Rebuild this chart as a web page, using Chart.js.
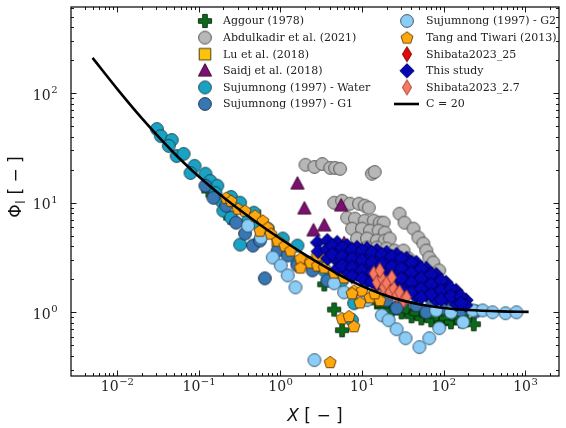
<!DOCTYPE html>
<html>
<head>
<meta charset="utf-8">
<script src="https://cdn.jsdelivr.net/npm/chart.js@4.4.1/dist/chart.umd.min.js"></script>
<style>
  html, body { margin: 0; padding: 0; background: #fff; }
</style>
</head>
<body>
<canvas id="chart" width="566" height="428"></canvas>
<script>
// Two-phase multiplier vs. Lockhart-Martinelli parameter, several data sources

const aggourX = [0.131, 0.243, 3.45, 4.56, 5.7, 15.2, 17.5, 20.0, 23.1, 26.5, 30.5, 35.1, 40.4, 46.3, 53.3, 61.3, 70.5, 81.1, 93.3, 107, 123, 142, 163, 188, 234];
const aggourY = [12.9, 7.31, 1.80, 1.06, 0.686, 1.23, 1.16, 1.16, 1.04, 1.09, 1.0, 1.04, 0.920, 0.98, 0.882, 0.939, 0.846, 0.920, 0.794, 0.882, 0.811, 0.882, 0.828, 0.846, 0.778];

const abdulX = [2.03, 2.61, 3.26, 4.08, 4.69, 5.39, 13.2, 14.3, 4.56, 5.7, 7.13, 9.17, 10.8, 12.1, 6.56, 8.2, 10.8, 13.9, 16.5, 18.4, 7.54, 9.98, 12.5, 16.0, 19.0, 8.67, 11.5, 15.2, 19.0, 21.8, 11.5, 15.2, 20.0, 25.1, 32.2, 28.8, 33.2, 42.7, 49.0, 56.4, 61.3, 66.7, 74.6, 88.3, 25.1, 37.1];
const abdulY = [22.2, 21.2, 22.6, 20.8, 20.8, 20.4, 18.4, 19.1, 10.0, 10.4, 9.79, 9.79, 9.39, 9.01, 7.31, 7.16, 6.86, 6.86, 6.58, 6.58, 5.8, 5.8, 5.56, 5.56, 5.34, 4.71, 4.71, 4.51, 4.51, 4.71, 3.9, 3.9, 3.82, 3.66, 3.66, 7.94, 6.58, 5.8, 4.81, 4.24, 3.66, 3.16, 2.85, 2.41, 3.1, 3.1];

const luX = [0.488, 0.927, 2.33];
const luY = [7.62, 4.51, 2.85];

const saidjX = [1.62, 1.97, 2.54, 3.45, 5.55, 6.03];
const saidjY = [14.9, 8.82, 5.56, 6.18, 9.39, 4.24];

const waterX = [0.0307, 0.0343, 0.0467, 0.0429, 0.0536, 0.0652, 0.0887, 0.0793, 0.1205, 0.1387, 0.1686, 0.1595, 0.1884, 0.249, 0.321, 0.1995, 0.249, 0.474, 0.321, 0.401, 0.561, 0.701, 1.07, 1.62, 2.84, 3.45, 5.7, 7.98, 7.54, 1.62];
const waterY = [47.1, 40.6, 37.4, 33.0, 26.7, 27.9, 21.7, 18.7, 18.4, 15.8, 14.3, 12.3, 10.4, 11.3, 10.0, 8.46, 7.31, 8.11, 4.15, 6.86, 6.18, 5.8, 4.71, 4.06, 2.85, 2.41, 1.95, 1.21, 0.846, 2.85];

const g1X = [0.1205, 0.1508, 0.217, 0.286, 0.369, 0.461, 0.561, 0.645, 0.927, 1.23, 1.62, 2.47, 3.75, 20.0, 30.5, 46.3, 70.5, 107, 163, 248, 26.5, 61.3];
const g1Y = [14.3, 11.1, 9.39, 6.58, 5.23, 4.06, 4.51, 2.04, 3.66, 3.3, 2.67, 2.41, 1.95, 1.29, 1.23, 1.16, 1.11, 1.09, 1.04, 1.02, 1.09, 1.0];

const g2X = [0.577, 0.807, 1.01, 1.23, 1.53, 2.61, 4.56, 6.03, 17.5, 21.2, 26.5, 34.1, 50.5, 66.7, 88.3, 173, 228, 301, 398, 573, 780, 0.401, 11.5, 81, 123];
const g2Y = [4.81, 3.16, 2.67, 2.17, 1.69, 0.366, 1.84, 1.52, 0.939, 0.846, 0.700, 0.580, 0.481, 0.580, 0.716, 0.811, 1.04, 1.04, 1.0, 0.98, 1.0, 6.18, 1.29, 1.04, 1.0];

const tangX = [0.217, 0.249, 0.303, 0.369, 0.488, 0.610, 0.701, 0.762, 0.561, 0.927, 1.13, 1.33, 1.76, 2.33, 1.76, 2.84, 3.45, 4.56, 6.03, 7.98, 9.98, 12.5, 9.43, 7.54, 5.7, 6.93, 7.98, 4.07, 16.5, 14.3, 2.84];
const tangY = [11.1, 10.4, 8.82, 8.46, 7.62, 6.86, 5.93, 5.23, 5.56, 4.51, 4.06, 3.66, 3.1, 2.85, 2.56, 2.67, 2.56, 2.31, 2.08, 1.58, 1.58, 1.37, 1.23, 1.49, 0.882, 0.920, 0.746, 0.351, 1.29, 1.49, 3.3];

const shib25X = [6.03, 7.54, 9.98, 11.5, 21.8, 26.5, 29.7, 19.0];
const shib25Y = [3.1, 2.85, 2.67, 2.73, 2.41, 2.36, 2.26, 2.51];

const studyX = [
  2.84, 2.9, 3.75, 3.7, 3.8, 4.96, 5.0, 4.9, 5.0, 6.56, 6.6, 6.5, 6.6, 8.67, 8.7, 8.6, 8.7,
  11.5, 11.6, 11.4, 11.5, 11.6, 15.2, 15.0, 15.3, 15.2, 15.1, 20.0, 20.2, 19.8, 20.0, 20.1,
  26.5, 26.3, 26.7, 26.5, 26.4, 35.1, 35.4, 34.8, 35.1, 35.3, 46.3, 46.0, 46.6, 46.3, 46.1,
  61.3, 61.8, 61.0, 61.3, 81.1, 80.5, 81.6, 81.1, 107, 106, 108, 142, 141, 143, 188, 186,
  4.32, 4.32, 5.7, 5.7, 5.7, 7.54, 7.54, 7.54, 7.54, 9.98, 9.98, 9.98, 9.98,
  13.2, 13.2, 13.2, 13.2, 17.5, 17.5, 17.5, 17.5, 23.1, 23.1, 23.1, 23.1,
  30.5, 30.5, 30.5, 30.5, 40.4, 40.4, 40.4, 40.4, 53.3, 53.3, 53.3, 53.3,
  70.5, 70.5, 70.5, 93.3, 93.3, 93.3, 123, 123, 163, 163
];
const studyY = [
  4.33, 3.59, 4.51, 3.74, 3.10, 4.33, 3.59, 2.97, 2.51, 4.06, 3.37, 2.79, 2.31, 3.90, 3.23, 2.67, 2.21,
  3.82, 3.16, 2.62, 2.17, 1.91, 3.66, 3.03, 2.51, 2.08, 1.80, 3.51, 2.91, 2.41, 2.0, 1.69,
  3.37, 2.79, 2.31, 1.91, 1.58, 3.10, 2.56, 2.12, 1.76, 1.49, 2.85, 2.36, 1.95, 1.62, 1.40,
  2.51, 2.08, 1.72, 1.43, 2.21, 1.84, 1.52, 1.29, 1.87, 1.58, 1.34, 1.58, 1.34, 1.18, 1.29, 1.16,
  4.06, 3.37, 3.90, 3.23, 2.67, 3.74, 3.10, 2.56, 2.12, 3.66, 2.97, 2.41, 2.04,
  3.51, 2.85, 2.31, 1.91, 3.37, 2.73, 2.21, 1.80, 3.23, 2.62, 2.12, 1.72,
  3.10, 2.51, 2.04, 1.58, 2.85, 2.31, 1.87, 1.52, 2.51, 2.04, 1.65, 1.37,
  2.21, 1.80, 1.46, 1.95, 1.58, 1.31, 1.65, 1.40, 1.40, 1.21
];

const shib27X = [13.9, 15.2, 17.5, 18.4, 20.0, 21.8, 24.4, 26.5, 28.8, 32.2, 35.1, 23.1, 16.5];
const shib27Y = [2.26, 1.87, 2.04, 1.69, 1.84, 1.52, 1.65, 1.43, 1.52, 1.29, 1.37, 2.08, 2.41];

// Chisholm curve, C = 20
const curveX = [0.005, 0.01, 0.02, 0.05, 0.1, 0.2, 0.5, 1, 2, 3, 5, 7, 10, 15, 20, 30, 50, 70, 100, 200, 500, 1100];
const curveY = [209.8, 109.5, 59.2, 28.3, 17.35, 11.22, 6.71, 4.69, 3.354, 2.789, 2.245, 1.969, 1.735, 1.529, 1.415, 1.291, 1.183, 1.134, 1.0955, 1.0488, 1.0198, 1.009];

const xTickExps = [-2, -1, 0, 1, 2, 3];
const yTickExps = [0, 1, 2];

// small offscreen canvases used as point styles (matplotlib-like markers)
function makeMarker(shape, fill, edge) {
  const c = document.createElement('canvas');
  c.width = 18; c.height = 18;
  const g = c.getContext('2d');
  g.translate(9, 9);
  g.beginPath();
  if (shape === 'circle') {
    g.arc(0, 0, 6.4, 0, Math.PI * 2);
  } else if (shape === 'plus') {
    const a = 6.6, t = 2.3;
    g.moveTo(-t, -a); g.lineTo(t, -a); g.lineTo(t, -t); g.lineTo(a, -t); g.lineTo(a, t);
    g.lineTo(t, t); g.lineTo(t, a); g.lineTo(-t, a); g.lineTo(-t, t); g.lineTo(-a, t);
    g.lineTo(-a, -t); g.lineTo(-t, -t); g.closePath();
  } else if (shape === 'square') {
    g.rect(-5.8, -5.8, 11.6, 11.6);
  } else if (shape === 'triangle') {
    g.moveTo(0, -7.2); g.lineTo(6.6, 5.2); g.lineTo(-6.6, 5.2); g.closePath();
  } else if (shape === 'pentagon') {
    for (let i = 0; i < 5; i++) {
      const ang = -Math.PI / 2 + i * 2 * Math.PI / 5;
      const px = 6.3 * Math.cos(ang), py = 6.3 * Math.sin(ang) + 0.5;
      if (i === 0) g.moveTo(px, py); else g.lineTo(px, py);
    }
    g.closePath();
  } else if (shape === 'diamond') {
    g.moveTo(0, -7.2); g.lineTo(7.2, 0); g.lineTo(0, 7.2); g.lineTo(-7.2, 0); g.closePath();
  } else if (shape === 'thin') {
    g.moveTo(0, -7.6); g.lineTo(4.6, 0); g.lineTo(0, 7.6); g.lineTo(-4.6, 0); g.closePath();
  }
  g.fillStyle = fill;
  g.fill();
  g.lineWidth = 0.9;
  g.strokeStyle = edge;
  g.stroke();
  return c;
}

const series = [
  { label: 'Aggour (1978)', xs: aggourX, ys: aggourY, m: makeMarker('plus', '#0d6a1c', '#022b08') },
  { label: 'Abdulkadir et al. (2021)', xs: abdulX, ys: abdulY, m: makeMarker('circle', '#b7b7b7', '#4a4a4a') },
  { label: 'Lu et al. (2018)', xs: luX, ys: luY, m: makeMarker('square', '#fdc20c', '#3a3000') },
  { label: 'Saidj et al. (2018)', xs: saidjX, ys: saidjY, m: makeMarker('triangle', '#7e0f72', '#2e0028') },
  { label: 'Sujumnong (1997) - Water', xs: waterX, ys: waterY, m: makeMarker('circle', '#19a2c4', '#1d3f4c') },
  { label: 'Sujumnong (1997) - G1', xs: g1X, ys: g1Y, m: makeMarker('circle', '#3877b3', '#1a2c44') },
  { label: 'Sujumnong (1997) - G2', xs: g2X, ys: g2Y, m: makeMarker('circle', '#8ccdf7', '#2c4e66') },
  { label: 'Tang and Tiwari (2013)', xs: tangX, ys: tangY, m: makeMarker('pentagon', '#ffa70f', '#5a3800') },
  { label: 'Shibata2023_25', xs: shib25X, ys: shib25Y, m: makeMarker('thin', '#e20a0a', '#6a0000') },
  { label: 'This study', xs: studyX, ys: studyY, m: makeMarker('diamond', '#0505b4', '#00004a') },
  { label: 'Shibata2023_2.7', xs: shib27X, ys: shib27Y, m: makeMarker('thin', '#f67a62', '#9a3a2a') }
];

const n = series.length;
const datasets = series.map((s, i) => ({
  label: s.label,
  data: s.xs.map((x, k) => ({ x, y: s.ys[k] })),
  pointStyle: s.m,
  pointRadius: 6,
  order: n - i
}));
datasets.push({
  label: 'C = 20',
  data: curveX.map((x, k) => ({ x, y: curveY[k] })),
  showLine: true,
  pointRadius: 0,
  borderColor: '#000',
  borderWidth: 2.6,
  cubicInterpolationMode: 'monotone',
  order: 0
});

function drawPow(ctx, exp, px, baseY, align) {
  const sup = exp < 0 ? '\u2212' + (-exp) : String(exp);
  ctx.font = '14px "DejaVu Serif"';
  const wb = ctx.measureText('10').width;
  ctx.font = '10px "DejaVu Serif"';
  const ws = ctx.measureText(sup).width;
  const left = align === 'center' ? px - (wb + ws) / 2 : px - (wb + ws);
  ctx.font = '14px "DejaVu Serif"';
  ctx.fillText('10', left, baseY);
  ctx.font = '10px "DejaVu Serif"';
  ctx.fillText(sup, left + wb + 0.5, baseY - 6.5);
}

function tickKind(v) {
  const e = Math.floor(Math.log10(v) + 1e-9);
  const s = v / Math.pow(10, e);
  const r = Math.round(s);
  if (Math.abs(s - r) > 1e-6 || r < 1 || r > 9) return null;
  return r === 1 ? 'major' : 'minor';
}

const axesDecor = {
  id: 'axesDecor',
  afterDatasetsDraw(chart) {
    const { ctx, chartArea: a } = chart;
    const xs = chart.scales.x, ys = chart.scales.y;
    ctx.save();
    ctx.strokeStyle = '#000';
    ctx.fillStyle = '#000';

    // frame on all four sides
    ctx.lineWidth = 1.2;
    ctx.strokeRect(a.left, a.top, a.right - a.left, a.bottom - a.top);

    // inward ticks, mirrored on top and right
    ctx.lineWidth = 0.9;
    ctx.beginPath();
    xs.ticks.forEach(t => {
      const k = tickKind(t.value);
      if (!k) return;
      const p = Math.round(xs.getPixelForValue(t.value)) + 0.5;
      if (p <= a.left + 1 || p >= a.right - 1) return;
      const len = k === 'major' ? 5.5 : 3;
      ctx.moveTo(p, a.bottom); ctx.lineTo(p, a.bottom - len);
      ctx.moveTo(p, a.top); ctx.lineTo(p, a.top + len);
    });
    ys.ticks.forEach(t => {
      const k = tickKind(t.value);
      if (!k) return;
      const p = Math.round(ys.getPixelForValue(t.value)) + 0.5;
      if (p <= a.top + 1 || p >= a.bottom - 1) return;
      const len = k === 'major' ? 5.5 : 3;
      ctx.moveTo(a.left, p); ctx.lineTo(a.left + len, p);
      ctx.moveTo(a.right, p); ctx.lineTo(a.right - len, p);
    });
    ctx.stroke();

    // tick labels
    ctx.fillStyle = '#222';
    ctx.textBaseline = 'alphabetic';
    ctx.textAlign = 'left';
    xTickExps.forEach(e => {
      drawPow(ctx, e, xs.getPixelForValue(Math.pow(10, e)), 391, 'center');
    });
    yTickExps.forEach(e => {
      drawPow(ctx, e, 57, ys.getPixelForValue(Math.pow(10, e)) + 6.5, 'right');
    });

    // axis titles
    ctx.fillStyle = '#111';
    ctx.font = 'italic 17px "DejaVu Sans"';
    const wx = ctx.measureText('X').width;
    ctx.font = '17px "DejaVu Sans"';
    const wr = ctx.measureText(' [ \u2212 ]').width;
    const cx = (a.left + a.right) / 2;
    ctx.font = 'italic 17px "DejaVu Sans"';
    ctx.fillText('X', cx - (wx + wr) / 2, 421);
    ctx.font = '17px "DejaVu Sans"';
    ctx.fillText(' [ \u2212 ]', cx - (wx + wr) / 2 + wx, 421);

    ctx.save();
    ctx.translate(21, (a.top + a.bottom) / 2 - 4);
    ctx.rotate(-Math.PI / 2);
    ctx.font = '17px "DejaVu Sans"';
    const wphi = ctx.measureText('\u03A6').width;
    ctx.font = '12px "DejaVu Sans"';
    const wl = ctx.measureText('l').width;
    ctx.font = '17px "DejaVu Sans"';
    const wb = ctx.measureText(' [ \u2212 ]').width;
    const x0 = -(wphi + wl + wb) / 2;
    ctx.fillText('\u03A6', x0, 0);
    ctx.font = '12px "DejaVu Sans"';
    ctx.fillText('l', x0 + wphi + 0.5, 3.5);
    ctx.font = '17px "DejaVu Sans"';
    ctx.fillText(' [ \u2212 ]', x0 + wphi + wl + 1, 0);
    ctx.restore();

    // legend, two columns inside the axes
    const colMarker = [205, 407];
    const colText = [223, 426];
    const rowY = [21, 37.6, 54.2, 70.8, 87.4, 104];
    ctx.font = '11px "DejaVu Serif"';
    ctx.textBaseline = 'middle';
    ctx.fillStyle = '#222';
    const entries = series.map(s => ({ label: s.label, m: s.m })).concat([{ label: 'C = 20', line: true }]);
    entries.forEach((en, i) => {
      const col = i < 6 ? 0 : 1;
      const row = i % 6;
      const y = rowY[row];
      if (en.line) {
        ctx.strokeStyle = '#000';
        ctx.lineWidth = 2.6;
        ctx.beginPath();
        ctx.moveTo(colMarker[col] - 13, y);
        ctx.lineTo(colMarker[col] + 12, y);
        ctx.stroke();
      } else {
        ctx.drawImage(en.m, colMarker[col] - 9, y - 9);
      }
      ctx.fillText(en.label, colText[col], y + 0.5);
    });
    ctx.restore();
  }
};

new Chart(document.getElementById('chart').getContext('2d'), {
  type: 'scatter',
  data: { datasets },
  options: {
    responsive: false,
    animation: false,
    layout: { padding: { top: 5, right: 1, left: 0, bottom: 0 } },
    plugins: { legend: { display: false }, tooltip: { enabled: false } },
    scales: {
      x: {
        type: 'logarithmic',
        min: 0.00272,
        max: 2590,
        grid: { display: false },
        border: { display: false },
        ticks: { display: false },
        afterFit(s) { s.height = 52; }
      },
      y: {
        type: 'logarithmic',
        min: 0.262,
        max: 612,
        grid: { display: false },
        border: { display: false },
        ticks: { display: false },
        afterFit(s) { s.width = 71; }
      }
    }
  },
  plugins: [axesDecor]
});
</script>
</body>
</html>
